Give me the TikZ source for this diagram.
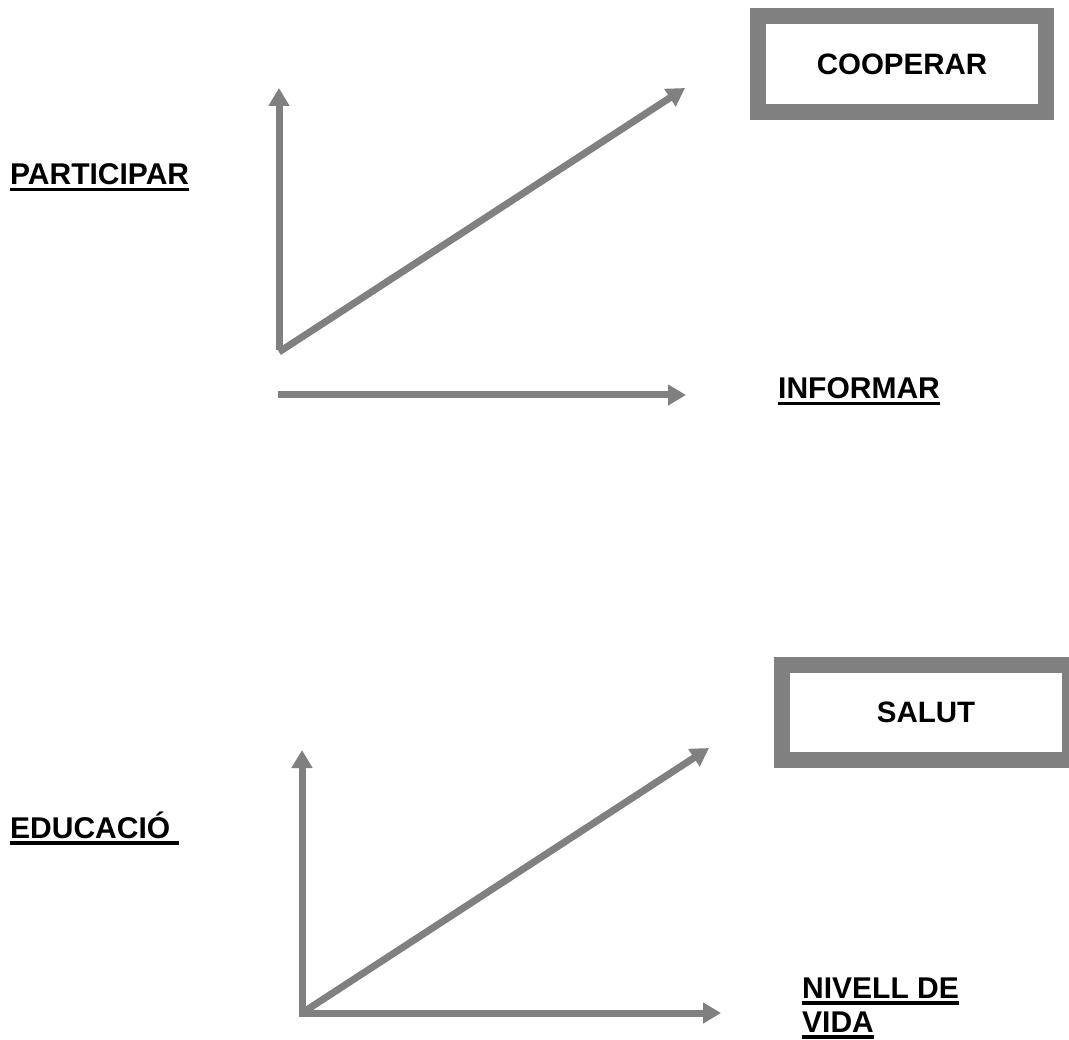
\documentclass[tikz,border=0pt]{standalone}
\usepackage{fontspec}
\setmainfont{Liberation Sans}
\usetikzlibrary{arrows.meta}
\definecolor{arrgray}{HTML}{808080}
\newsavebox\ulb
\newcommand\ulword[1]{\sbox\ulb{#1}\rlap{\rule[-6.5pt]{\wd\ulb}{3.5pt}}\usebox\ulb}
\tikzset{
  arr/.style={draw=arrgray, line width=7pt, -{Triangle[length=18pt,width=20pt]}},
  bigbox/.style={draw=arrgray, line width=16pt, fill=white, inner sep=0pt,
    font=\fontsize{29.5}{35}\selectfont\bfseries},
  lab/.style={anchor=base west, inner sep=0pt, font=\fontsize{30}{35}\selectfont\bfseries}
}
\begin{document}
\begin{tikzpicture}[x=1pt,y=-1pt]
\useasboundingbox[fill=white] (0,0) rectangle (1069,1040);
% top group
\coordinate (o1) at (279,352);
\coordinate (o1h) at (278,395);
\coordinate (t1v) at (279,88);
\coordinate (t1d) at (685,88);
\coordinate (t1h) at (686,395);
\draw[arr] ([yshift=2pt]o1) -- (t1v);
\draw[arr] (o1) -- (t1d);
\draw[arr] (o1h) -- (t1h);
\node[bigbox, minimum width=288pt, minimum height=96pt] (coop) at (902,64) {COOPERAR};
\node[lab] (part) at (10,185) {\ulword{PARTICIPAR}};
\node[lab] (inf) at (778,399) {\ulword{INFORMAR}};
% bottom group
\coordinate (o2) at (302,1013);
\coordinate (t2v) at (302,750);
\coordinate (t2d) at (709,748);
\coordinate (t2h) at (721,1013);
\draw[arr] ([yshift=3.5pt]o2) -- (t2v);
\draw[arr] (o2) -- (t2d);
\draw[arr] ([xshift=-3.5pt]o2) -- (t2h);
\node[bigbox, minimum width=288pt, minimum height=95pt] (salut) at (926,712.5) {SALUT};
\node[lab] (edu) at (10,838) {\ulword{EDUCACIÓ\hspace{9pt}}};
\node[lab] (niv) at (802,998) {\ulword{NIVELL DE}};
\node[lab] (vida) at (802,1032) {\ulword{VIDA}};
\end{tikzpicture}
\end{document}
